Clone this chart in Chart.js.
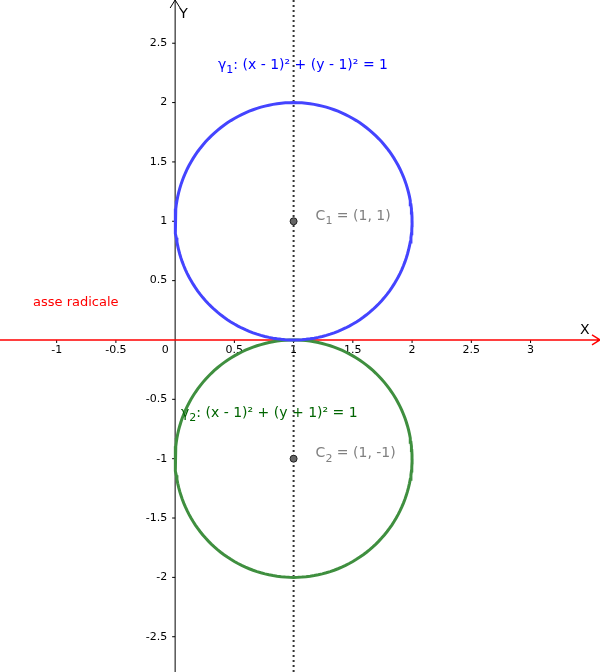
<!DOCTYPE html>
<html>
<head>
<meta charset="utf-8">
<script src="https://cdn.jsdelivr.net/npm/chart.js@4"></script>
<style>
  body { margin: 0; background: #fff; }
  #box { width: 600px; height: 672px; }
</style>
</head>
<body>
<div id="box"><canvas id="myChart"></canvas></div>
<script>
// window of the plot
const xRange = [-1.436, 3.544];
const yRange = [-2.755, 2.822];
const xTicks = [-1, -0.5, 0, 0.5, 1, 1.5, 2, 2.5, 3];
const yTicks = [-2.5, -2, -1.5, -1, -0.5, 0.5, 1, 1.5, 2, 2.5];
// circles: centre and radius
const centers = [[1, 1], [1, -1]];
const radii = [1, 1];
const circleColors = ['#4444ff', '#3f8f3f'];
const pointLabels = ['C', 'C'];

function circle(c, r) {
    const pts = [];
    for (let i = 0; i <= 180; i++) {
        const t = i / 180 * Math.PI * 2;
        pts.push({ x: c[0] + r * Math.cos(t), y: c[1] + r * Math.sin(t) });
    }
    return pts;
}

const sub = (ctx, base, idx, rest, x, y, color) => {
    ctx.fillStyle = color;
    ctx.font = '14px "DejaVu Sans"';
    ctx.fillText(base, x, y);
    let w = ctx.measureText(base).width;
    ctx.font = '11px "DejaVu Sans"';
    ctx.fillText(idx, x + w, y + 5);
    w += ctx.measureText(idx).width;
    ctx.font = '14px "DejaVu Sans"';
    ctx.fillText(rest, x + w, y);
};

const axes = {
    id: 'axes',
    beforeDatasetsDraw(chart) {
        const ctx = chart.ctx, xs = chart.scales.x, ys = chart.scales.y;
        const x0 = xs.getPixelForValue(0), y0 = ys.getPixelForValue(0);
        ctx.save();
        ctx.strokeStyle = '#000'; ctx.lineWidth = 1;
        ctx.beginPath();
        ctx.moveTo(x0, 672); ctx.lineTo(x0, 0);
        ctx.moveTo(x0 - 5, 8); ctx.lineTo(x0, 0); ctx.lineTo(x0 + 5, 8);
        ctx.stroke();
        ctx.font = '11px "DejaVu Sans"'; ctx.fillStyle = '#000';
        ctx.textAlign = 'center'; ctx.textBaseline = 'top';
        xTicks.forEach(v => {
            const px = xs.getPixelForValue(v);
            if (v === 0) { ctx.fillText('0', px - 10, y0 + 5); return; }
            ctx.beginPath(); ctx.moveTo(px, y0); ctx.lineTo(px, y0 + 3); ctx.stroke();
            ctx.fillText(String(v), px, y0 + 5);
        });
        ctx.textAlign = 'right'; ctx.textBaseline = 'middle';
        yTicks.forEach(v => {
            const py = ys.getPixelForValue(v);
            ctx.beginPath(); ctx.moveTo(x0 - 3, py); ctx.lineTo(x0, py); ctx.stroke();
            ctx.fillText(String(v), x0 - 8, py);
        });
        ctx.font = '14px "DejaVu Sans"'; ctx.textAlign = 'left';
        ctx.fillText('Y', x0 + 4, 14);
        ctx.fillText('X', 580, y0 - 10);
        // dotted line x = 1
        const x1 = xs.getPixelForValue(1);
        ctx.setLineDash([2, 3]); ctx.strokeStyle = '#333'; ctx.lineWidth = 2;
        ctx.beginPath(); ctx.moveTo(x1, 0); ctx.lineTo(x1, 672); ctx.stroke();
        ctx.setLineDash([]);
        // radical axis
        ctx.strokeStyle = '#ff0000'; ctx.lineWidth = 1.5;
        ctx.beginPath(); ctx.moveTo(0, y0); ctx.lineTo(600, y0);
        ctx.moveTo(592, y0 - 5); ctx.lineTo(600, y0); ctx.lineTo(592, y0 + 5);
        ctx.stroke();
        ctx.restore();
    },
    afterDatasetsDraw(chart) {
        const ctx = chart.ctx, xs = chart.scales.x, ys = chart.scales.y;
        ctx.save();
        ctx.textBaseline = 'middle'; ctx.textAlign = 'left';
        sub(ctx, 'γ', '1', ': (x - 1)² + (y - 1)² = 1', 218, 65, '#0000ff');
        sub(ctx, 'γ', '2', ': (x - 1)² + (y + 1)² = 1', 181, 413, '#006400');
        centers.forEach((c, i) => {
            sub(ctx, pointLabels[i], String(i + 1),
                ' = (' + c[0] + ', ' + c[1] + ')',
                xs.getPixelForValue(c[0]) + 22, ys.getPixelForValue(c[1]) - 5, '#808080');
        });
        ctx.fillStyle = '#ff0000'; ctx.font = '13px "DejaVu Sans"';
        ctx.fillText('asse radicale', 33, 303);
        ctx.restore();
    }
};

new Chart(document.getElementById('myChart'), {
    type: 'scatter',
    data: {
        datasets: [
            ...centers.map((c, i) => ({
                data: circle(c, radii[i]),
                showLine: true,
                borderColor: circleColors[i],
                borderWidth: 3,
                pointRadius: 0,
                tension: 0
            })),
            {
                data: centers.map(c => ({ x: c[0], y: c[1] })),
                pointRadius: 3.5,
                backgroundColor: '#666',
                borderColor: '#222',
                borderWidth: 1
            }
        ]
    },
    options: {
        responsive: true,
        maintainAspectRatio: false,
        animation: false,
        layout: { padding: 0 },
        plugins: { legend: { display: false }, tooltip: { enabled: false } },
        scales: {
            x: { type: 'linear', min: xRange[0], max: xRange[1], display: false },
            y: { type: 'linear', min: yRange[0], max: yRange[1], display: false }
        }
    },
    plugins: [axes]
});
</script>
</body>
</html>
